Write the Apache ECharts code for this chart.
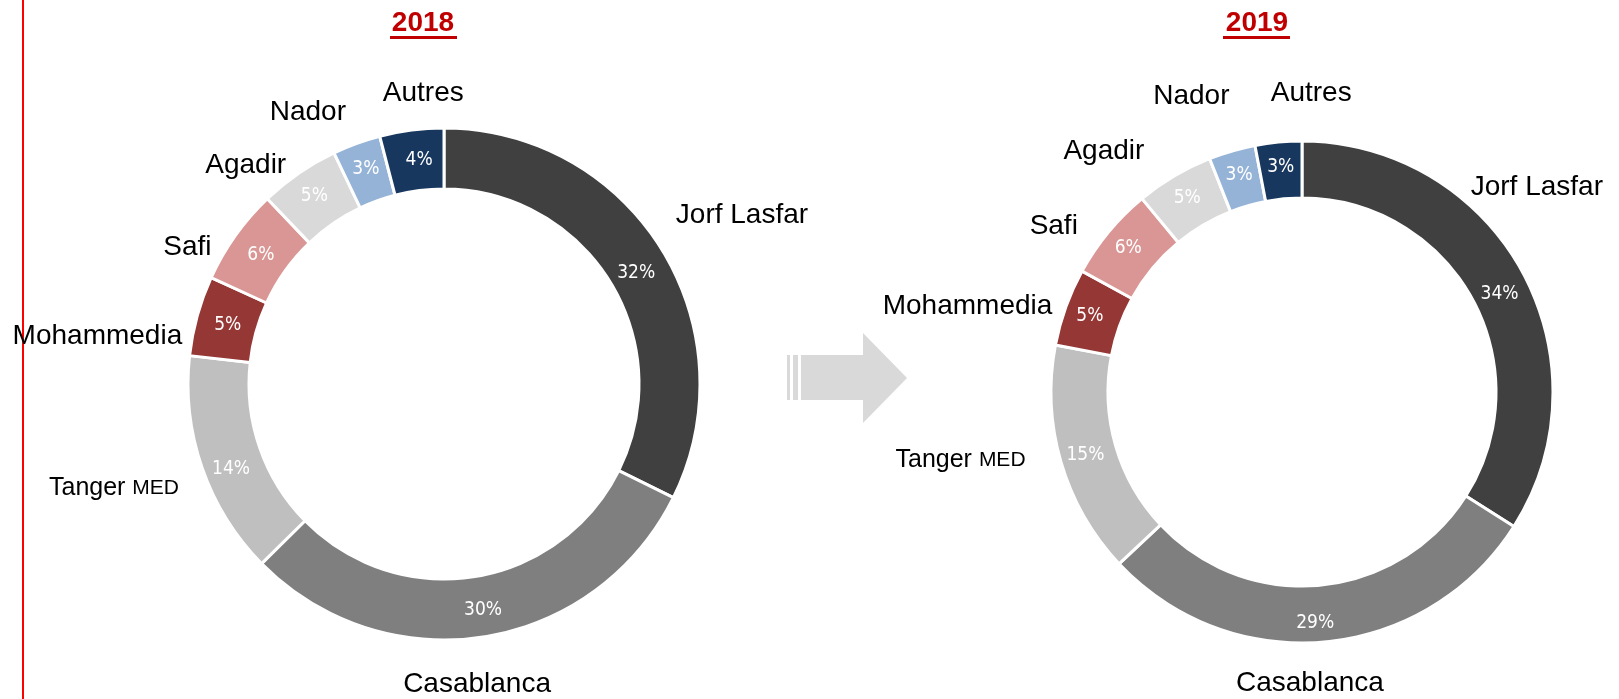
<!DOCTYPE html>
<html>
<head>
<meta charset="utf-8">
<script src="https://cdn.jsdelivr.net/npm/echarts@6/dist/echarts.min.js"></script>
<style>
html,body{margin:0;padding:0;background:#fff;}
#chart{width:1619px;height:699px;}
</style>
</head>
<body>
<div id="chart"></div>
<script>
var ports = ['Jorf Lasfar', 'Casablanca', 'Tanger MED', 'Mohammedia', 'Safi', 'Agadir', 'Nador', 'Autres'];
var years = ['2018', '2019'];
var share2018 = [32, 30, 14, 5, 6, 5, 3, 4];
var share2019 = [34, 29, 15, 5, 6, 5, 3, 3];
var colors = ['#404040', '#7F7F7F', '#BFBFBF', '#953735', '#D99694', '#D9D9D9', '#95B3D7', '#17375E'];

// décalage des étiquettes de noms (placées à la main dans l'original)
var nudge2018 = [[3, -13], [-23, 9], [-3, 8], [6, 31], [-8, 34], [-16, 24], [-27, 5], [20, 2]];
var nudge2019 = [[-65, -65], [-25, 3], [-14, -12], [5, 13], [-17, 19], [-37, 9], [-23, -17], [39, -10]];
// petit décalage des pourcentages
var pctNudge2018 = [[-2, 10], [3, 0], [3, 10], [4, 2], [3, 4], [0, 0], [0, 0], [4, 3]];
var pctNudge2019 = [[0, 11], [-8, 7], [0, 0], [0, 0], [0, 0], [0, 0], [0, 0], [0, 0]];

var pctFont = "'Liberation Sans Narrow', 'DejaVu Sans Condensed', sans-serif";
var nameFont = "'Liberation Sans', Arial, sans-serif";

function nameLayout(values, cx, cy, r, gap, nudge) {
  var total = values.reduce(function (a, b) { return a + b; }, 0);
  return function (p) {
    var i = p.dataIndex, cum = 0;
    for (var k = 0; k < i; k++) cum += values[k];
    var a = (cum + values[i] / 2) / total * Math.PI * 2;
    var dx = Math.sin(a), dy = -Math.cos(a);
    var w = p.labelRect.width, h = p.labelRect.height;
    return {
      x: cx + dx * (r + gap) + dx * w / 2 + nudge[i][0],
      y: cy + dy * (r + gap) + dy * h / 2 + nudge[i][1],
      align: 'center',
      verticalAlign: 'middle'
    };
  };
}

function donut(values, cx, cy, r0, r1, nudge, pctNudge) {
  var pct = {
    type: 'pie',
    radius: [r0, r1],
    center: [cx, cy],
    startAngle: 90,
    clockwise: true,
    silent: true,
    avoidLabelOverlap: false,
    z: 3,
    itemStyle: { borderColor: '#fff', borderWidth: 3 },
    label: {
      show: true,
      position: 'inside',
      formatter: function (p) { return p.value + '%'; },
      color: '#fff',
      fontFamily: pctFont,
      fontSize: 19
    },
    labelLine: { show: false },
    labelLayout: function (p) {
      return { dx: pctNudge[p.dataIndex][0], dy: pctNudge[p.dataIndex][1] };
    },
    data: values.map(function (v, i) {
      return { name: ports[i], value: v, itemStyle: { color: colors[i] } };
    })
  };
  var names = {
    type: 'pie',
    radius: [r0, r1],
    center: [cx, cy],
    startAngle: 90,
    clockwise: true,
    silent: true,
    avoidLabelOverlap: false,
    z: 1,
    itemStyle: { color: 'rgba(0,0,0,0)', borderWidth: 0 },
    label: {
      show: true,
      position: 'outside',
      color: '#000',
      fontFamily: nameFont,
      fontSize: 28,
      formatter: function (p) {
        var s = p.name.split(' ');
        if (s.length === 2 && s[1] === s[1].toUpperCase()) {
          return '{n|' + s[0] + ' }{s|' + s[1] + '}';
        }
        return p.name;
      },
      rich: {
        n: { fontFamily: nameFont, fontSize: 25, color: '#000' },
        s: { fontFamily: nameFont, fontSize: 21, color: '#000' }
      }
    },
    labelLine: { show: false },
    labelLayout: nameLayout(values, cx, cy, r1, 25, nudge),
    data: values.map(function (v, i) { return { name: ports[i], value: v }; })
  };
  return [names, pct];
}

var chart = echarts.init(document.getElementById('chart'));

chart.setOption({
  backgroundColor: '#fff',
  animation: false,
  graphic: [
    { type: 'line', shape: { x1: 23, y1: 0, x2: 23, y2: 699 }, style: { stroke: '#FF0000', lineWidth: 2 } },
    { type: 'text', x: 423, y: 23, style: { text: years[0], fill: '#C00000', font: "bold 28px 'Liberation Sans', Arial, sans-serif", textAlign: 'center', textVerticalAlign: 'middle' } },
    { type: 'rect', shape: { x: 390, y: 36, width: 67, height: 3 }, style: { fill: '#C00000' } },
    { type: 'text', x: 1257, y: 23, style: { text: years[1], fill: '#C00000', font: "bold 28px 'Liberation Sans', Arial, sans-serif", textAlign: 'center', textVerticalAlign: 'middle' } },
    { type: 'rect', shape: { x: 1223, y: 36, width: 67, height: 3 }, style: { fill: '#C00000' } },
    // flèche 2018 -> 2019
    { type: 'rect', shape: { x: 787, y: 355, width: 3, height: 45 }, style: { fill: '#D9D9D9' } },
    { type: 'rect', shape: { x: 793, y: 355, width: 5, height: 45 }, style: { fill: '#D9D9D9' } },
    { type: 'polygon', shape: { points: [[801, 355], [863, 355], [863, 333], [907, 378], [863, 423], [863, 400], [801, 400]] }, style: { fill: '#D9D9D9' } }
  ],
  series: donut(share2018, 444, 384, 195, 256, nudge2018, pctNudge2018)
    .concat(donut(share2019, 1302, 392, 194, 251, nudge2019, pctNudge2019))
});
</script>
</body>
</html>
